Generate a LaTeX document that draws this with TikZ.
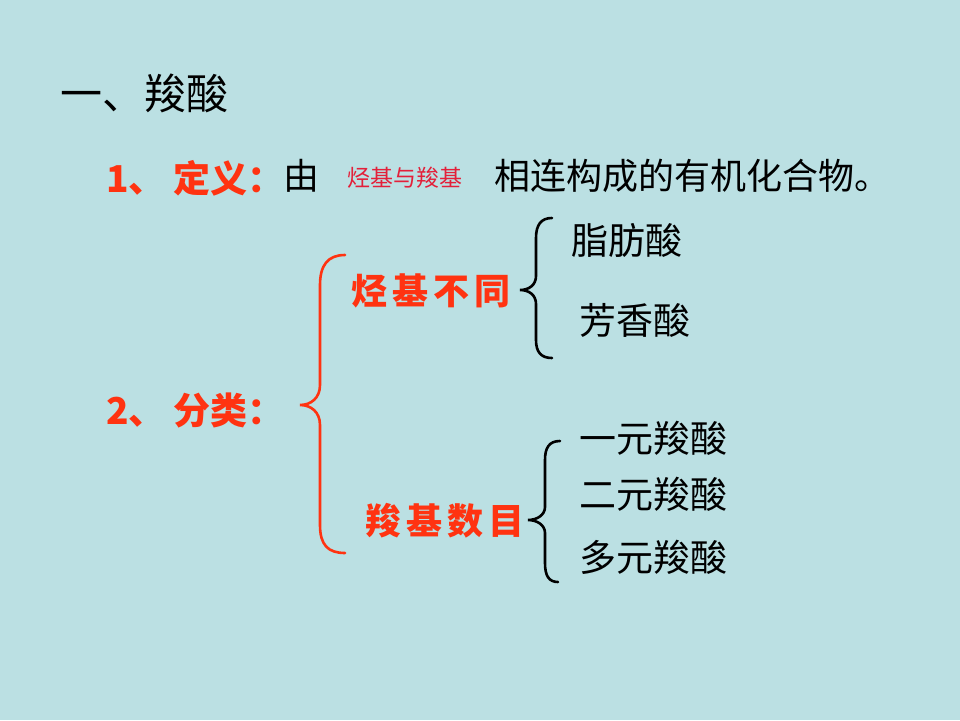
\documentclass[tikz,border=0pt]{standalone}
\usepackage{fontspec}
\setmainfont{Noto Sans CJK SC}
\newfontfamily\cjk{Noto Sans CJK SC}
\newfontfamily\cjkbold{Noto Sans CJK SC Black}
\definecolor{bg}{HTML}{BBE0E3}
\definecolor{redo}{HTML}{FF3311}
\definecolor{reds}{HTML}{E3203A}
\tikzset{
  blk/.style={anchor=west,inner sep=0pt,text=black,font=\cjk\fontsize{36}{40}\selectfont},
  blkl/.style={anchor=west,inner sep=0pt,text=black,font=\cjk\fontsize{37}{40}\selectfont},
  redt/.style={anchor=west,inner sep=0pt,text=redo,font=\cjkbold\fontsize{37}{42}\selectfont},
  redw/.style={anchor=west,inner sep=0pt,text=redo,font=\cjkbold\fontsize{36}{42}\selectfont},
  smallred/.style={anchor=west,inner sep=0pt,text=reds,font=\cjk\fontsize{23}{26}\selectfont},
  redbrace/.style={draw=redo,line width=2.6pt,line cap=round},
  blkbrace/.style={draw=black,line width=2.6pt,line cap=round}
}
\begin{document}
\begin{tikzpicture}[x=1pt,y=-1pt]
\fill[bg] (0,0) rectangle (960,720);
\useasboundingbox (0,0) rectangle (960,720);
% title
\node[anchor=west,inner sep=0pt,font=\cjk\fontsize{42}{46}\selectfont] (title) at (60,93) {一、羧酸};
% definition line
\node[redt] (def) at (106,178) {1、\hspace{8pt}定义：};
\node[blk] (you) at (283,176) {由};
\node[smallred] (sub) at (347,178) {烃基与羧基};
\node[blk] (rest) at (494,176) {相连构成的有机化合物。};
% classification
\node[redt] (cls) at (106,410) {2、\hspace{8pt}分类：};
\node[redw] (hyd) at (351,291) {烃\hspace{5pt}基\hspace{5pt}不\hspace{5pt}同};
\node[redw] (carb) at (365,521) {羧\hspace{5pt}基\hspace{5pt}数\hspace{5pt}目};
% leaves
\node[blkl] (zhi) at (571,240) {脂肪酸};
\node[blkl] (fang) at (579,320) {芳香酸};
\node[blkl] (yi) at (579,438) {一元羧酸};
\node[blkl] (er) at (579,494) {二元羧酸};
\node[blkl] (duo) at (579,557) {多元羧酸};
% red brace
\draw[redbrace] (345,255) .. controls (328,255) and (320,265) .. (320,285) -- (320,385)
  .. controls (320,398) and (311,405) .. (300,405)
  .. controls (311,405) and (320,412) .. (320,425) -- (320,525)
  .. controls (320,545) and (328,553) .. (345,553);
% black brace 1
\draw[blkbrace] (552,218) .. controls (541,218) and (536,225) .. (536,238) -- (536,276)
  .. controls (536,285) and (529,290) .. (520,290)
  .. controls (529,290) and (536,295) .. (536,304) -- (536,340)
  .. controls (536,352) and (541,358) .. (552,358);
% black brace 2
\draw[blkbrace] (560,441) .. controls (549,441) and (545,448) .. (545,460) -- (545,507)
  .. controls (545,515) and (537,520) .. (528,520)
  .. controls (537,520) and (545,525) .. (545,533) -- (545,563)
  .. controls (545,576) and (549,582) .. (558,582);
\end{tikzpicture}
\end{document}
